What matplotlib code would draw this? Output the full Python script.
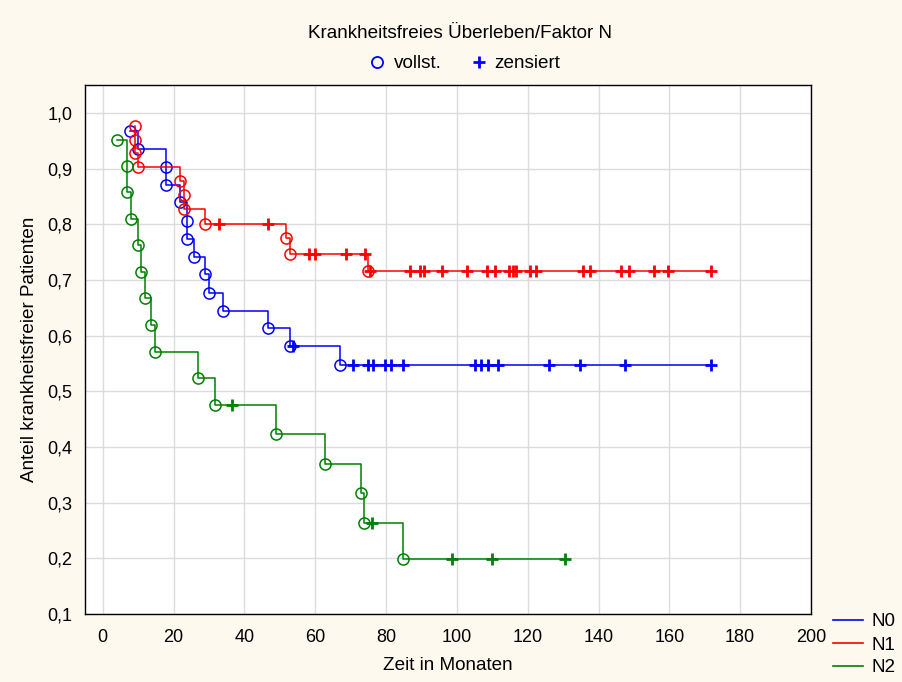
import matplotlib.pyplot as plt
import numpy as np
from matplotlib.lines import Line2D

plt.rcParams['font.family'] = ['Liberation Sans', 'DejaVu Sans']

# Kaplan-Meier data
# N0
n0_event_t = [7.8, 10.1, 18.0, 18.0, 21.7, 23.8, 23.8, 25.9, 28.9, 29.9, 33.9, 46.8, 52.9, 67.0]
n0_event_s = [0.968, 0.935, 0.903, 0.871, 0.839, 0.806, 0.774, 0.742, 0.710, 0.677, 0.645, 0.613, 0.581, 0.547]
n0_cens_t = [53.8, 70.6, 74.9, 76.4, 79.8, 81.4, 84.7, 105.0, 106.7, 108.7, 111.7,
             125.9, 134.8, 147.5, 171.7]

# N1
n1_event_t = [9.0, 9.0, 9.0, 10.0, 21.9, 23.0, 23.0, 28.9, 51.7, 53.0, 74.8]
n1_event_s = [0.976, 0.951, 0.927, 0.902, 0.878, 0.853, 0.827, 0.800, 0.775, 0.747, 0.716]
n1_cens_t = [32.9, 46.8, 58.3, 59.9, 68.8, 74.0, 75.4, 86.7, 89.6, 90.6, 95.8, 102.8,
             108.5, 110.8, 114.6, 115.8, 116.7, 120.7, 122.4, 135.5, 137.6, 146.3,
             148.7, 155.7, 159.7, 171.7]

# N2
n2_event_t = [3.9, 6.9, 6.9, 8.0, 10.0, 10.8, 12.0, 13.7, 14.9, 26.9, 31.7, 48.8,
              62.7, 72.8, 73.8, 84.8]
n2_event_s = [0.952, 0.905, 0.857, 0.810, 0.762, 0.714, 0.667, 0.619, 0.571, 0.524,
              0.476, 0.423, 0.370, 0.317, 0.264, 0.198]
n2_cens_t = [36.6, 75.9, 98.7, 109.8, 130.6]

groups = ['N0', 'N1', 'N2']
colors = ['#0000ff', '#ff0000', '#008000']

W, H = 903, 682
fs = 13.6
fig = plt.figure(figsize=(W / 100, H / 100), dpi=100, facecolor='#fdf9ee')
ax = fig.add_axes([85 / W, 1 - 614 / H, 726 / W, 529 / H])
ax.set_facecolor('white')

data = [(n0_event_t, n0_event_s, n0_cens_t),
        (n1_event_t, n1_event_s, n1_cens_t),
        (n2_event_t, n2_event_s, n2_cens_t)]

for (et, es, ct), col in zip(data, colors):
    et = np.array(et)
    es = np.array(es)
    ct = np.array(ct)
    # survival level at each censoring time
    idx = np.searchsorted(et, ct, side='right') - 1
    cs = es[idx]
    t_all = np.concatenate([et, ct])
    s_all = np.concatenate([es, cs])
    order = np.argsort(t_all, kind='stable')
    ax.plot(t_all[order], s_all[order], drawstyle='steps-post', color=col, lw=1.1)
    ax.plot(et, es, 'o', ms=8, mfc='none', mec=col, mew=1.1)
    ax.plot(ct, cs, '+', ms=9, mec=col, mew=2)

ax.set_xlim(-5, 200)
ax.set_ylim(0.1, 1.05)
ax.set_xticks(np.arange(0, 201, 20))
yt = np.arange(0.1, 1.01, 0.1)
ax.set_yticks(yt)
ax.set_yticklabels([f'{v:.1f}'.replace('.', ',') for v in yt])
ax.grid(color='#dcdcdc', lw=1)
ax.set_axisbelow(True)
ax.tick_params(axis='x', labelsize=13, length=0, pad=11)
ax.tick_params(axis='y', labelsize=13, length=0, pad=9)
for sp in ax.spines.values():
    sp.set_linewidth(1.0)

ax.set_xlabel('Zeit in Monaten', fontsize=fs, labelpad=8)
ax.set_ylabel('Anteil krankheitsfreier Patienten', fontsize=fs, labelpad=7)

fig.text(460 / W, 1 - 34 / H, 'Krankheitsfreies Überleben/Faktor N',
         ha='center', va='center', fontsize=fs)

# top legend: event / censored symbols
y_top = 1 - 62 / H
y_txt = 1 - 64 / H
fig.add_artist(Line2D([377 / W], [y_top], ls='', marker='o', ms=8, mfc='none',
                      mec='#0000ff', mew=1.3, transform=fig.transFigure))
fig.text(394 / W, y_txt, 'vollst.', ha='left', va='center', fontsize=fs)
fig.add_artist(Line2D([479 / W], [y_top], ls='', marker='+', ms=9,
                      mec='#0000ff', mew=2, transform=fig.transFigure))
fig.text(494 / W, y_txt, 'zensiert', ha='left', va='center', fontsize=fs)

# side legend: groups
for i, (name, col) in enumerate(zip(groups, colors)):
    y = 1 - (620 + 23 * i) / H
    fig.add_artist(Line2D([833 / W, 863 / W], [y, y], color=col, lw=1.2,
                          transform=fig.transFigure))
    fig.text(872 / W, y - 2 / H, name, ha='left', va='center', fontsize=fs)

fig.savefig('out.png', dpi=100, facecolor=fig.get_facecolor())
